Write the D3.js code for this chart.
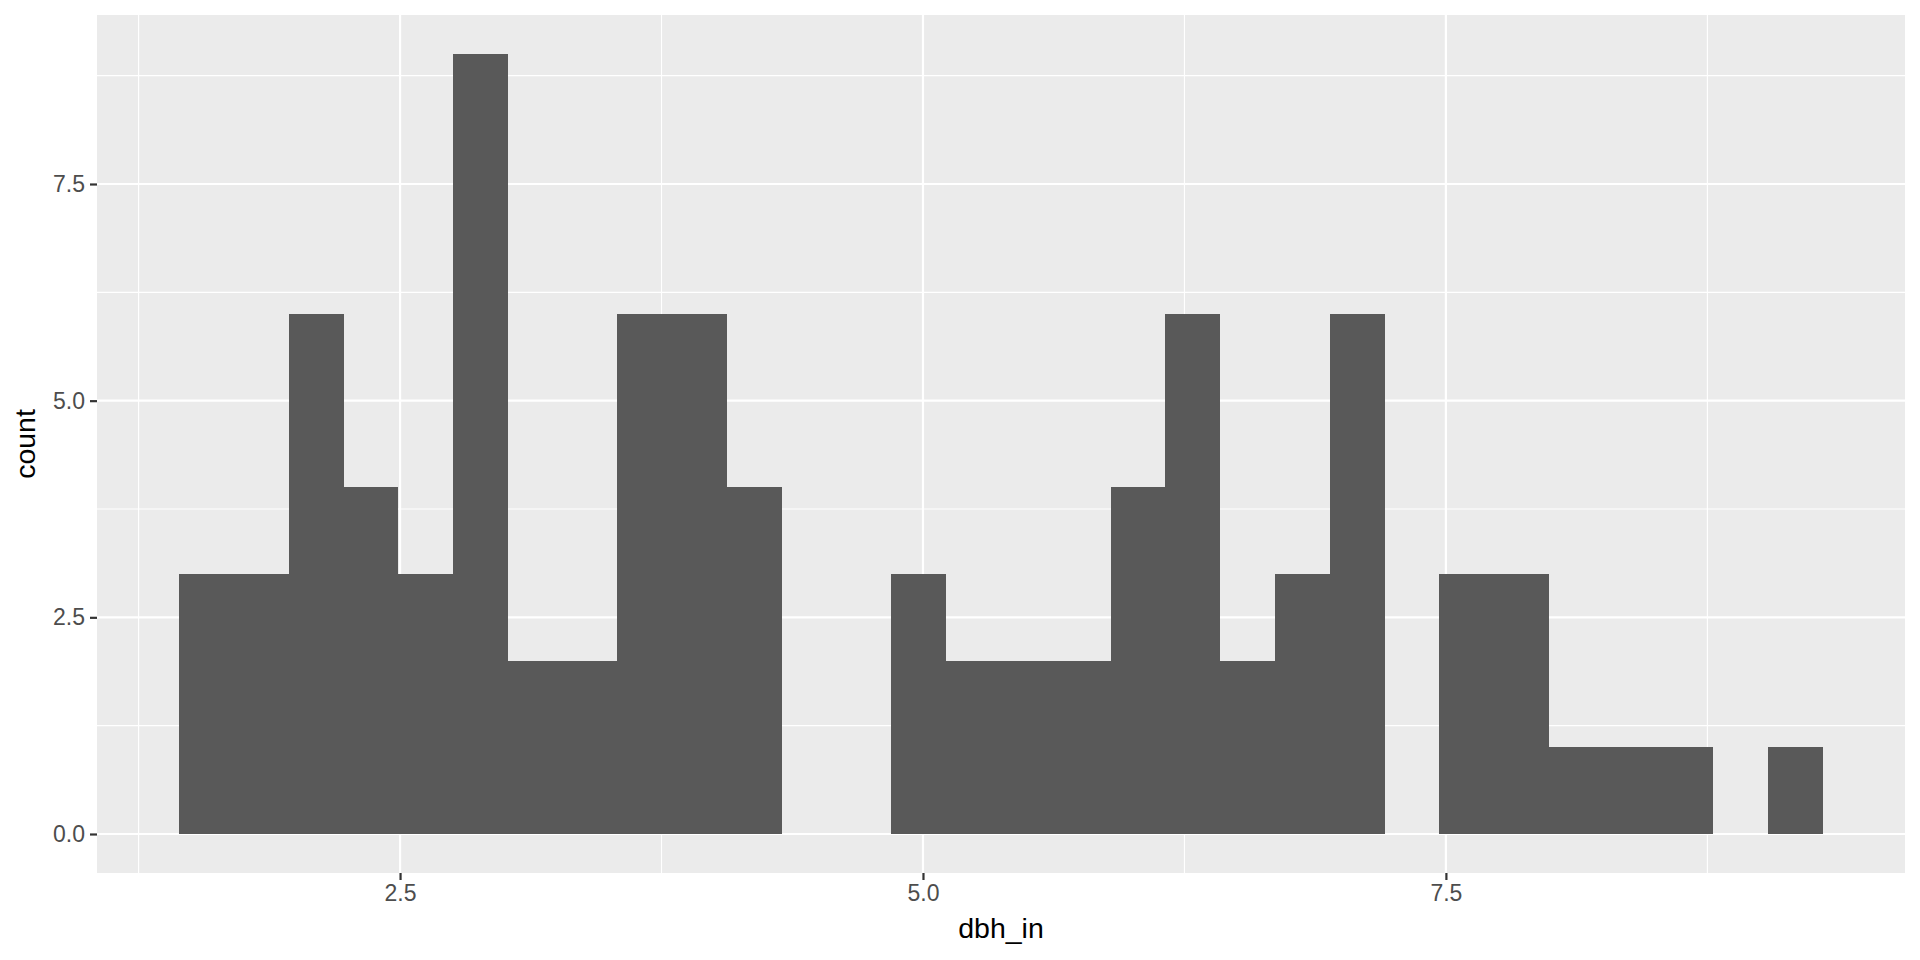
<!DOCTYPE html>
<html>
<head>
<meta charset="utf-8">
<script src="https://cdn.jsdelivr.net/npm/d3@7"></script>
<style>
  body { margin: 0; background: #fff; }
  svg { display: block; font-family: "Liberation Sans", Arial, sans-serif; }
</style>
</head>
<body>
<svg></svg>
<script>
var width = 1920;
var height = 960;

// histogram of dbh_in, 30 bins (ggplot default)
var dbhMin = 1.575;
var dbhMax = 9.171;
var binCounts = [3, 3, 6, 4, 3, 9, 2, 2, 6, 6, 4, 0, 0, 3, 2, 2, 2, 4, 6, 2, 3, 6, 0, 3, 3, 1, 1, 1, 0, 1];
var xTicks = [2.5, 5.0, 7.5];
var yTicks = [0, 2.5, 5.0, 7.5];
var xMinor = [1.25, 3.75, 6.25, 8.75];
var yMinor = [1.25, 3.75, 6.25, 8.75];

var panel = { left: 97, top: 15, right: 1905, bottom: 873 };

var binWidth = (dbhMax - dbhMin) / (binCounts.length - 1);
var bins = binCounts.map((c, i) => ({
  x0: dbhMin - binWidth / 2 + i * binWidth,
  x1: dbhMin + binWidth / 2 + i * binWidth,
  count: c
}));

var xLo = bins[0].x0, xHi = bins[bins.length - 1].x1;
var xPad = (xHi - xLo) * 0.05;
var yMax = d3.max(binCounts);

var x = d3.scaleLinear()
  .domain([xLo - xPad, xHi + xPad])
  .range([panel.left, panel.right]);

var y = d3.scaleLinear()
  .domain([-yMax * 0.05, yMax * 1.05])
  .range([panel.bottom, panel.top]);

var svg = d3.select("svg")
  .attr("width", width)
  .attr("height", height);

svg.append("rect")
  .attr("x", panel.left)
  .attr("y", panel.top)
  .attr("width", panel.right - panel.left)
  .attr("height", panel.bottom - panel.top)
  .attr("fill", "#ebebeb");

var grid = svg.append("g");

grid.selectAll(".xminor")
  .data(xMinor)
  .enter().append("line")
    .attr("x1", d => x(d)).attr("x2", d => x(d))
    .attr("y1", panel.top).attr("y2", panel.bottom)
    .attr("stroke", "#fff").attr("stroke-width", 1.1);

grid.selectAll(".yminor")
  .data(yMinor)
  .enter().append("line")
    .attr("x1", panel.left).attr("x2", panel.right)
    .attr("y1", d => y(d)).attr("y2", d => y(d))
    .attr("stroke", "#fff").attr("stroke-width", 1.1);

grid.selectAll(".xmajor")
  .data(xTicks)
  .enter().append("line")
    .attr("x1", d => x(d)).attr("x2", d => x(d))
    .attr("y1", panel.top).attr("y2", panel.bottom)
    .attr("stroke", "#fff").attr("stroke-width", 2.2);

grid.selectAll(".ymajor")
  .data(yTicks)
  .enter().append("line")
    .attr("x1", panel.left).attr("x2", panel.right)
    .attr("y1", d => y(d)).attr("y2", d => y(d))
    .attr("stroke", "#fff").attr("stroke-width", 2.2);

svg.append("g")
  .selectAll("rect")
  .data(bins.filter(d => d.count > 0))
  .enter().append("rect")
    .attr("x", d => x(d.x0))
    .attr("width", d => x(d.x1) - x(d.x0))
    .attr("y", d => y(d.count))
    .attr("height", d => y(0) - y(d.count))
    .attr("fill", "#595959")
    .attr("shape-rendering", "crispEdges");

// axes
var xAxis = d3.axisBottom(x)
  .tickValues(xTicks)
  .tickFormat(d3.format(".1f"))
  .tickSize(7)
  .tickPadding(5);

var yAxis = d3.axisLeft(y)
  .tickValues(yTicks)
  .tickFormat(d3.format(".1f"))
  .tickSize(7)
  .tickPadding(5);

svg.append("g")
    .attr("transform", `translate(0, ${panel.bottom})`)
    .call(xAxis)
    .call(g => g.select(".domain").remove());

svg.append("g")
    .attr("transform", `translate(${panel.left}, 0)`)
    .call(yAxis)
    .call(g => g.select(".domain").remove());

svg.selectAll(".tick line")
  .attr("stroke", "#333")
  .attr("stroke-width", 2.2);

svg.selectAll(".tick text")
  .attr("fill", "#4d4d4d")
  .style("font-size", "23px")
  .style("font-family", "'Liberation Sans', Arial, sans-serif");

svg.append("text")
    .attr("x", (panel.left + panel.right) / 2)
    .attr("y", 938)
    .attr("text-anchor", "middle")
    .style("font-size", "28.5px")
    .attr("fill", "#000")
    .text("dbh_in");

svg.append("text")
    .attr("transform", `translate(35, ${(panel.top + panel.bottom) / 2}) rotate(-90)`)
    .attr("text-anchor", "middle")
    .style("font-size", "28.5px")
    .attr("fill", "#000")
    .text("count");
</script>
</body>
</html>
